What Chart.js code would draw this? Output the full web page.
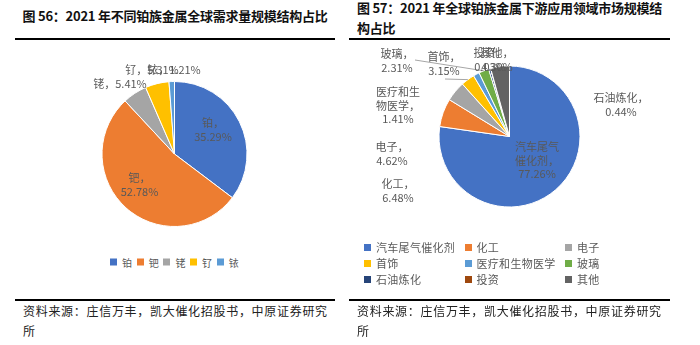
<!DOCTYPE html>
<html>
<head>
<meta charset="utf-8">
<script src="https://cdn.jsdelivr.net/npm/chart.js@4.4.0/dist/chart.umd.min.js"></script>
<style>
  body { margin: 0; width: 700px; height: 345px; overflow: hidden; position: relative; background: #fff;
         font-family: "Noto Sans CJK SC", sans-serif; }
  .title { position: absolute; font-weight: bold; font-size: 13px; letter-spacing: -0.25px; line-height: 19.5px; color: #111; white-space: nowrap; }
  .rule { position: absolute; height: 2px; background: #000; }
  .src { position: absolute; font-size: 12px; letter-spacing: 0.7px; line-height: 20px; color: #222; white-space: nowrap; }
  canvas { position: absolute; }
  .leg { position: absolute; color: #595959; white-space: nowrap; }
  .leg .item { position: absolute; display: flex; align-items: center; transform: translateY(-50%); }
  .leg .box { width: 7px; height: 7px; margin-right: 5px; }
</style>
</head>
<body>
  <div class="title" style="left:0;width:350px;text-align:center;top:6px">图 56：2021 年不同铂族金属全球需求量规模结构占比</div>
  <div class="rule" style="left:15px;width:320px;top:38px"></div>
  <canvas id="metalPie" width="350" height="200" style="left:0;top:40px"></canvas>
  <div class="leg" id="metalLegend" style="font-size:10px"></div>
  <div class="rule" style="left:15px;width:320px;top:299px"></div>
  <div class="src" style="left:23px;top:301px">资料来源：庄信万丰，凯大催化招股书，中原证券研究<br>所</div>

  <div class="title" style="left:357px;top:-2px">图 57：2021 年全球铂族金属下游应用领域市场规模结<br>构占比</div>
  <div class="rule" style="left:349px;width:321px;top:38px"></div>
  <canvas id="usePie" width="350" height="200" style="left:350px;top:40px"></canvas>
  <div class="leg" id="useLegend" style="font-size:11px;letter-spacing:0.3px"></div>
  <div class="rule" style="left:349px;width:321px;top:299px"></div>
  <div class="src" style="left:357px;top:301px">资料来源：庄信万丰，凯大催化招股书，中原证券研究<br>所</div>

<script>
// data
const metalLabels = ['铂', '钯', '铑', '钌', '铱'];
const metalShares = [35.29, 52.78, 5.41, 5.31, 1.21];

const useLabels = ['汽车尾气催化剂', '化工', '电子', '首饰', '医疗和生物医学', '玻璃', '石油炼化', '投资', '其他'];
const useShares = [77.26, 6.48, 4.62, 3.15, 1.41, 2.31, 0.44, 0.03, 4.30];

const officeColors = ['#4472C4', '#ED7D31', '#A5A5A5', '#FFC000', '#5B9BD5',
                      '#70AD47', '#264478', '#9E480E', '#636363'];

// label placement, offsets from the pie centre (first text line), like the excel original
const metalLabelPos = [
  { dx: 38.5, dy: -31, wrap: true },
  { dx: -35, dy: 24, wrap: true },
  { dx: -54.5, dy: -70 },
  { dx: -22.5, dy: -84 },
  { dx: -0.5, dy: -84 }
];
const useLabelPos = [
  { dx: 27.5, dy: 10.5, wrap: true },
  { dx: -111.5, dy: 47.5, wrap: true },
  { dx: -117.5, dy: 10.5, wrap: true },
  { dx: -65.5, dy: -79.5, wrap: true, lead: [-64.5, -57.5] },
  { dx: -111.5, dy: -44.5, wrap: true },
  { dx: -112.5, dy: -82.5, wrap: true, lead: [-94.5, -76.5] },
  { dx: 111.5, dy: -38.5, wrap: true },
  { dx: -19.5, dy: -83.5, wrap: true },
  { dx: -12.5, dy: -83.5, wrap: true }
];

function labelLines(name, value, wrap) {
  const pct = value.toFixed(2) + '%';
  if (!wrap) return [name + '，' + pct];
  const lines = [];
  for (let i = 0; i < name.length; i += 4) lines.push(name.slice(i, i + 4));
  lines[lines.length - 1] += '，';
  lines.push(pct);
  return lines;
}

function pieLabels(layout) {
  return {
    id: 'pieLabels',
    afterDatasetsDraw(chart) {
      const ctx = chart.ctx;
      const meta = chart.getDatasetMeta(0);
      const values = chart.data.datasets[0].data;
      ctx.save();
      ctx.font = '11px "Noto Sans CJK SC"';
      ctx.fillStyle = '#595959';
      ctx.textAlign = 'center';
      ctx.textBaseline = 'middle';
      meta.data.forEach((arc, i) => {
        const p = arc.getProps(['x', 'y', 'startAngle', 'endAngle', 'outerRadius'], true);
        const pos = layout[i];
        if (pos.lead) {
          const mid = (p.startAngle + p.endAngle) / 2;
          ctx.strokeStyle = '#A6A6A6';
          ctx.lineWidth = 1;
          ctx.beginPath();
          ctx.moveTo(p.x + pos.lead[0], p.y + pos.lead[1]);
          ctx.lineTo(p.x + Math.cos(mid) * p.outerRadius, p.y + Math.sin(mid) * p.outerRadius);
          ctx.stroke();
        }
        const lines = labelLines(chart.data.labels[i], values[i], pos.wrap);
        lines.forEach((t, j) => ctx.fillText(t, p.x + pos.dx, p.y + pos.dy + j * 13.5));
      });
      ctx.restore();
    }
  };
}

function renderPie(id, labels, data, padding, layout) {
  return new Chart(document.getElementById(id), {
    type: 'pie',
    data: {
      labels,
      datasets: [{
        data,
        backgroundColor: officeColors.slice(0, labels.length),
        borderColor: '#fff',
        borderWidth: 1,
        hoverOffset: 0
      }]
    },
    options: {
      responsive: false,
      animation: false,
      layout: { padding },
      plugins: {
        legend: { display: false },
        tooltip: { enabled: false }
      }
    },
    plugins: [pieLabels(layout)]
  });
}

function renderLegend(id, labels, place) {
  const el = document.getElementById(id);
  labels.forEach((name, i) => {
    const item = document.createElement('div');
    item.className = 'item';
    const [x, y] = place(i);
    item.style.left = x + 'px';
    item.style.top = y + 'px';
    item.innerHTML = '<span class="box" style="background:' + officeColors[i] + '"></span>' + name;
    el.appendChild(item);
  });
}

renderPie('metalPie', metalLabels, metalShares,
  { left: 101.5, right: 102.5, top: 41, bottom: 13 }, metalLabelPos);
renderPie('usePie', useLabels, useShares,
  { left: 88.5, right: 119.5, top: 25.5, bottom: 32.5 }, useLabelPos);

renderLegend('metalLegend', metalLabels, i => [110 + i * 26.7, 262]);
renderLegend('useLegend', useLabels, i => [364 + (i % 3) * 100.5, 247 + Math.floor(i / 3) * 16]);
</script>
</body>
</html>
